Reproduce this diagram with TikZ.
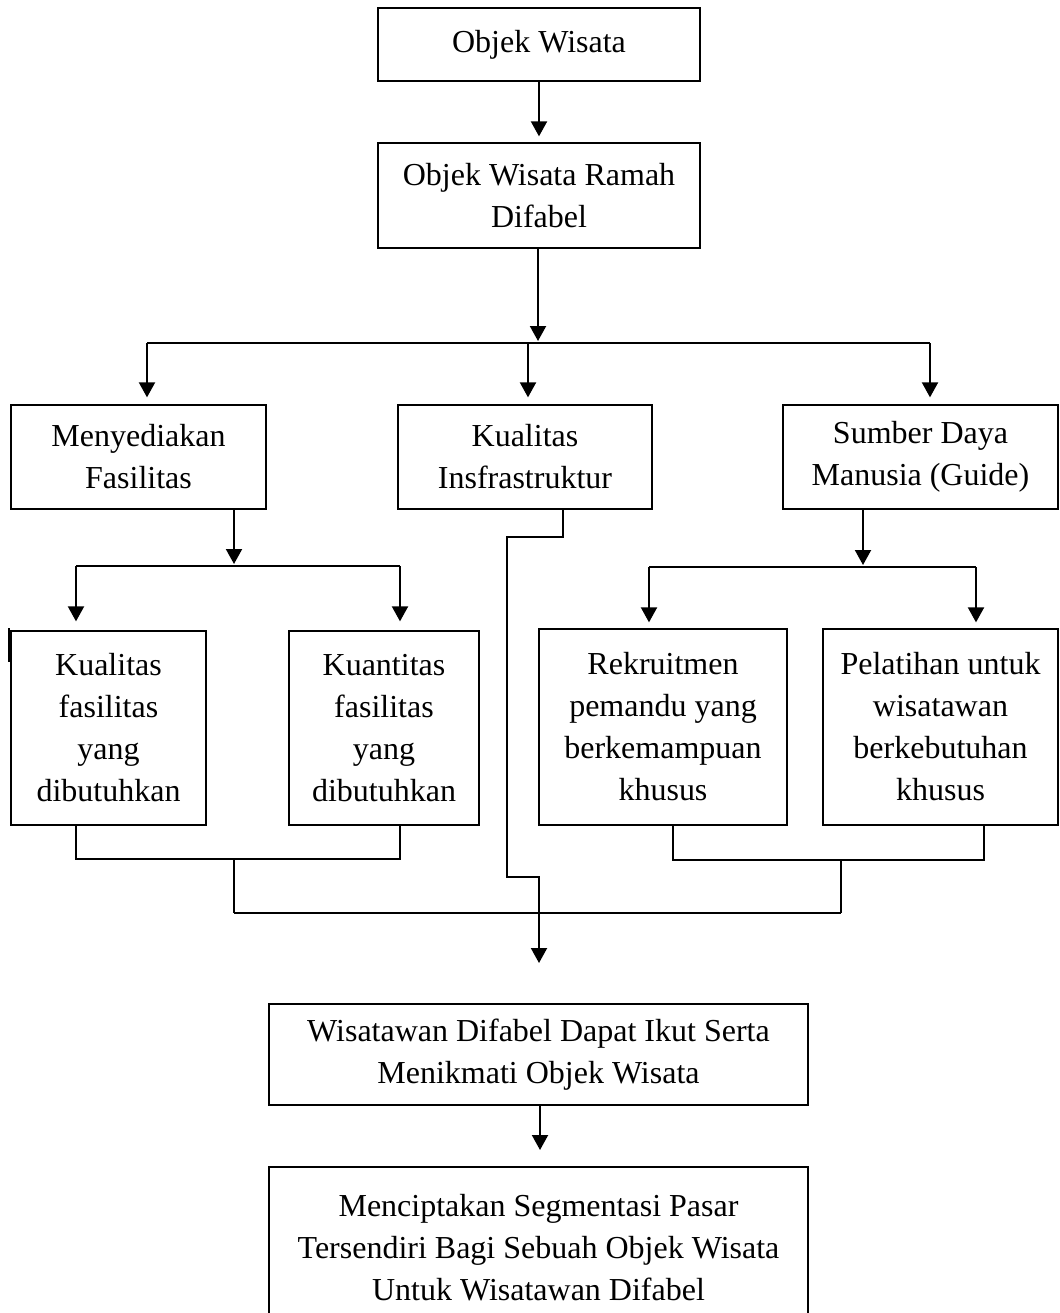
\documentclass[tikz,border=0pt]{standalone}
\usepackage{fontspec}
\setmainfont{Liberation Serif}
\usetikzlibrary{arrows.meta,calc}
\begin{document}
\begin{tikzpicture}[x=0.5pt,y=-0.5pt,
  box/.style={draw,line width=0.65pt,rectangle,inner sep=0pt,align=center,font=\fontsize{16}{21}\selectfont},
  arr/.style={line width=1pt,-{Triangle[width=8pt,length=7.5pt]}},
  thinline/.style={line width=0.6pt}]
\useasboundingbox (0,0) rectangle (1060,1313);
% boxes
\node[box,minimum width=161pt,minimum height=36.5pt] (b1) at (539,44.5) {Objek Wisata};
\node[box,minimum width=161pt,minimum height=52.5pt] (b2) at (539,195.5) {Objek Wisata Ramah\\Difabel};
\node[box,minimum width=127.5pt,minimum height=52pt] (b3) at (138.5,457) {Menyediakan\\Fasilitas};
\node[box,minimum width=127pt,minimum height=52pt] (b4) at (525,457) {Kualitas\\Insfrastruktur};
\node[box,minimum width=137.5pt,minimum height=52pt] (b5) at (920.5,457) {Sumber Daya\\Manusia (Guide)};
\node[box,minimum width=97.5pt,minimum height=97pt] (b6) at (108.5,728) {Kualitas\\fasilitas\\yang\\dibutuhkan};
\node[box,minimum width=95pt,minimum height=97pt] (b7) at (384,728) {Kuantitas\\fasilitas\\yang\\dibutuhkan};
\node[box,minimum width=124pt,minimum height=98pt] (b8) at (663,727) {Rekruitmen\\pemandu yang\\berkemampuan\\khusus};
\node[box,minimum width=117.5pt,minimum height=98pt] (b9) at (940.5,727) {Pelatihan untuk\\wisatawan\\berkebutuhan\\khusus};
\node[box,minimum width=269.5pt,minimum height=50.5pt] (b10) at (538.5,1054.5) {Wisatawan Difabel Dapat Ikut Serta\\Menikmati Objek Wisata};
\node[box,minimum width=269.5pt,minimum height=81pt] (b11) at (538.5,1248) {Menciptakan Segmentasi Pasar\\Tersendiri Bagi Sebuah Objek Wisata\\Untuk Wisatawan Difabel};
% top arrow
\draw[arr,shorten >=3pt] (b1) -- (b2);
% first split
\coordinate (j1) at (538,341);
\draw[arr] (b2.south -| j1) -- (j1);
\coordinate (a1) at (147,343);
\coordinate (a2) at (528,343);
\coordinate (a3) at (930,343);
\draw[thinline] (a1) -- (a3);
\draw[arr,shorten >=3.5pt] (a1) -- (a1 |- b3.north);
\draw[arr,shorten >=3.5pt] (a2) -- (a2 |- b4.north);
\draw[arr,shorten >=3.5pt] (a3) -- (a3 |- b5.north);
% left split
\coordinate (j2) at (234,564);
\draw[arr] (b3.south -| j2) -- (j2);
\coordinate (a4) at (76,566);
\coordinate (a5) at (400,566);
\draw[thinline] (a4) -- (a5);
\draw[arr,shorten >=4.5pt] (a4) -- (a4 |- b6.north);
\draw[arr,shorten >=4.5pt] (a5) -- (a5 |- b7.north);
% right split
\coordinate (j3) at (863,565);
\draw[arr] (b5.south -| j3) -- (j3);
\coordinate (a6) at (649,567);
\coordinate (a7) at (976,567);
\draw[thinline] (a6) -- (a7);
\draw[arr,shorten >=3pt] (a6) -- (a6 |- b8.north);
\draw[arr,shorten >=3pt] (a7) -- (a7 |- b9.north);
% infrastructure path
\coordinate (k1) at (563,537);
\coordinate (j4) at (539,913);
\draw[thinline] (b4.south -| k1) -- (k1) -- (507,537) -- (507,877) -- (539,877) -- (j4);
% bottom merges
\coordinate (m1) at (76,859);
\coordinate (m2) at (400,859);
\coordinate (m3) at (234,859);
\coordinate (m4) at (234,913);
\draw[thinline] (b6.south -| m1) -- (m1) -- (m2) -- (b7.south -| m2);
\draw[thinline] (m3) -- (m4);
\coordinate (m5) at (673,860);
\coordinate (m6) at (984,860);
\coordinate (m7) at (841,860);
\coordinate (m8) at (841,913);
\draw[thinline] (b8.south -| m5) -- (m5) -- (m6) -- (b9.south -| m6);
\draw[thinline] (m7) -- (m8);
\draw[thinline] (m4) -- (m8);
% final arrows
\coordinate (t4) at (539,963);
\draw[arr] (539,907) -- (t4);
\coordinate (t5) at (540,1150);
\draw[arr] (b10.south -| t5) -- (t5);
% stray mark
\draw[thinline] (9,628) -- (9,662);
\end{tikzpicture}
\end{document}
